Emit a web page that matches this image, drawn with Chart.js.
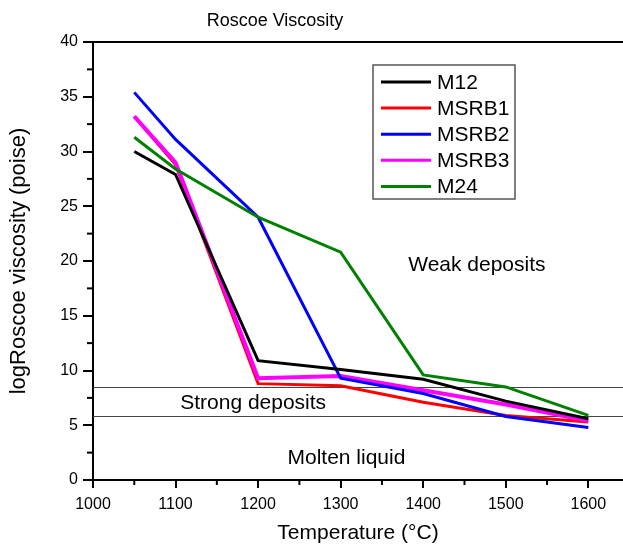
<!DOCTYPE html>
<html>
<head>
<meta charset="utf-8">
<script src="https://cdn.jsdelivr.net/npm/chart.js@4.4.1/dist/chart.umd.min.js"></script>
<style>
  html, body { margin: 0; padding: 0; background: #fff; }
  #wrap { width: 623px; height: 550px; }
</style>
</head>
<body>
<div id="wrap"><canvas id="c" width="623" height="550"></canvas></div>
<script>
const temperatures = [1050, 1100, 1200, 1300, 1400, 1500, 1600];
const seriesNames = ['M12', 'MSRB1', 'MSRB2', 'MSRB3', 'M24'];
const m12   = [30.0, 27.9, 10.9, 10.1, 9.2, 7.2, 5.6];
const msrb1 = [33.2, 28.8, 8.8, 8.6, 7.1, 5.9, 5.3];
const msrb2 = [35.4, 31.1, 24.0, 9.3, 7.9, 5.8, 4.8];
const msrb3 = [33.2, 29.0, 9.3, 9.5, 8.2, 6.9, 5.4];
const m24   = [31.3, 28.4, 24.0, 20.8, 9.6, 8.5, 5.9];
const thresholds = [8.5, 5.8];
const annotations = [
  { text: 'Weak deposits', x: 1465, y: 19.6 },
  { text: 'Strong deposits', x: 1194, y: 7.05 },
  { text: 'Molten liquid', x: 1307, y: 1.95 }
];
const xTickValues = [1000, 1100, 1200, 1300, 1400, 1500, 1600];
const yTickValues = [0, 5, 10, 15, 20, 25, 30, 35, 40];

const FONT = '"Liberation Sans", Arial, Helvetica, sans-serif';
const colors = ['#000000', '#ff0000', '#0000ff', '#ff00ff', '#008000'];
const widths = [3, 3, 3, 4, 3];
const orders = [2, 5, 3, 4, 1];
const values = [m12, msrb1, msrb2, msrb3, m24];

const datasets = seriesNames.map((name, i) => ({
  label: name,
  data: temperatures.map((t, j) => ({ x: t, y: values[i][j] })),
  borderColor: colors[i],
  backgroundColor: colors[i],
  borderWidth: widths[i],
  pointRadius: 0,
  tension: 0,
  order: orders[i],
  borderJoinStyle: 'miter'
}));

const decor = {
  id: 'decor',
  beforeDatasetsDraw(chart) {
    const { ctx, chartArea, scales } = chart;
    const xs = scales.x, ys = scales.y;
    ctx.save();
    ctx.strokeStyle = '#444';
    ctx.lineWidth = 1;
    thresholds.forEach(v => {
      const py = Math.round(ys.getPixelForValue(v)) + 0.5;
      ctx.beginPath();
      ctx.moveTo(chartArea.left, py);
      ctx.lineTo(chart.width, py);
      ctx.stroke();
    });
    ctx.fillStyle = '#000';
    ctx.font = '21px ' + FONT;
    ctx.textAlign = 'center';
    ctx.textBaseline = 'middle';
    annotations.forEach(a => {
      ctx.fillText(a.text, xs.getPixelForValue(a.x), ys.getPixelForValue(a.y));
    });
    ctx.restore();
  },
  afterDraw(chart) {
    const { ctx, chartArea, scales } = chart;
    const xs = scales.x, ys = scales.y;
    ctx.save();
    ctx.strokeStyle = '#000';
    ctx.lineWidth = 2;
    ctx.beginPath();
    ctx.moveTo(chartArea.left - 10, chartArea.top);
    ctx.lineTo(chart.width, chartArea.top);
    ctx.stroke();
    for (let v = 1050; v < 1650; v += 100) {
      const px = xs.getPixelForValue(v);
      ctx.beginPath();
      ctx.moveTo(px, chartArea.bottom);
      ctx.lineTo(px, chartArea.bottom + 5);
      ctx.stroke();
    }
    for (let v = 2.5; v < 40; v += 5) {
      const py = ys.getPixelForValue(v);
      ctx.beginPath();
      ctx.moveTo(chartArea.left, py);
      ctx.lineTo(chartArea.left - 6, py);
      ctx.stroke();
    }
    ctx.fillStyle = '#000';
    ctx.font = '18px ' + FONT;
    ctx.textAlign = 'center';
    ctx.textBaseline = 'middle';
    ctx.fillText('Roscoe Viscosity', 275, 21);
    const lx = 373, ly = 65, lw = 142, lh = 134;
    ctx.strokeStyle = '#555';
    ctx.lineWidth = 1.5;
    ctx.fillStyle = '#fff';
    ctx.fillRect(lx, ly, lw, lh);
    ctx.strokeRect(lx, ly, lw, lh);
    ctx.font = '21px ' + FONT;
    ctx.textAlign = 'left';
    chart.data.datasets.forEach((ds, i) => {
      const y = ly + 17 + i * 26.1;
      ctx.strokeStyle = ds.borderColor;
      ctx.lineWidth = 3;
      ctx.beginPath();
      ctx.moveTo(lx + 8, y);
      ctx.lineTo(lx + 58, y);
      ctx.stroke();
      ctx.fillStyle = '#000';
      ctx.fillText(ds.label, lx + 64, y + 1);
    });
    ctx.restore();
  }
};

new Chart(document.getElementById('c'), {
  type: 'line',
  data: { datasets },
  plugins: [decor],
  options: {
    responsive: false,
    animation: false,
    devicePixelRatio: 1,
    layout: { padding: { top: 42, right: 0, left: 0, bottom: 0 } },
    plugins: { legend: { display: false }, title: { display: false }, tooltip: { enabled: false } },
    scales: {
      x: {
        type: 'linear',
        min: 1000,
        max: 1642,
        afterBuildTicks: s => { s.ticks = xTickValues.map(v => ({ value: v })); },
        afterFit: s => { s.height = 70; },
        ticks: { color: '#000', font: { size: 16, family: FONT }, padding: 7, maxRotation: 0, autoSkip: false,
                 callback: v => String(v) },
        grid: { drawOnChartArea: false, drawTicks: true, tickLength: 8, color: '#000', lineWidth: 2 },
        border: { display: true, color: '#000', width: 2 },
        title: { display: true, text: 'Temperature (°C)', color: '#000', font: { size: 21, family: FONT }, padding: { top: 0, bottom: 4 } }
      },
      y: {
        type: 'linear',
        min: 0,
        max: 40,
        afterBuildTicks: s => { s.ticks = yTickValues.map(v => ({ value: v })); },
        afterFit: s => { s.width = 93; },
        ticks: { color: '#000', font: { size: 16, family: FONT }, padding: 5, autoSkip: false,
                 callback: v => String(v) },
        grid: { drawOnChartArea: false, drawTicks: true, tickLength: 10, color: '#000', lineWidth: 2 },
        border: { display: true, color: '#000', width: 2 },
        title: { display: true, text: 'logRoscoe viscosity (poise)', color: '#000', font: { size: 22, family: FONT }, padding: { top: 6, bottom: 0 } }
      }
    }
  }
});
</script>
</body>
</html>
